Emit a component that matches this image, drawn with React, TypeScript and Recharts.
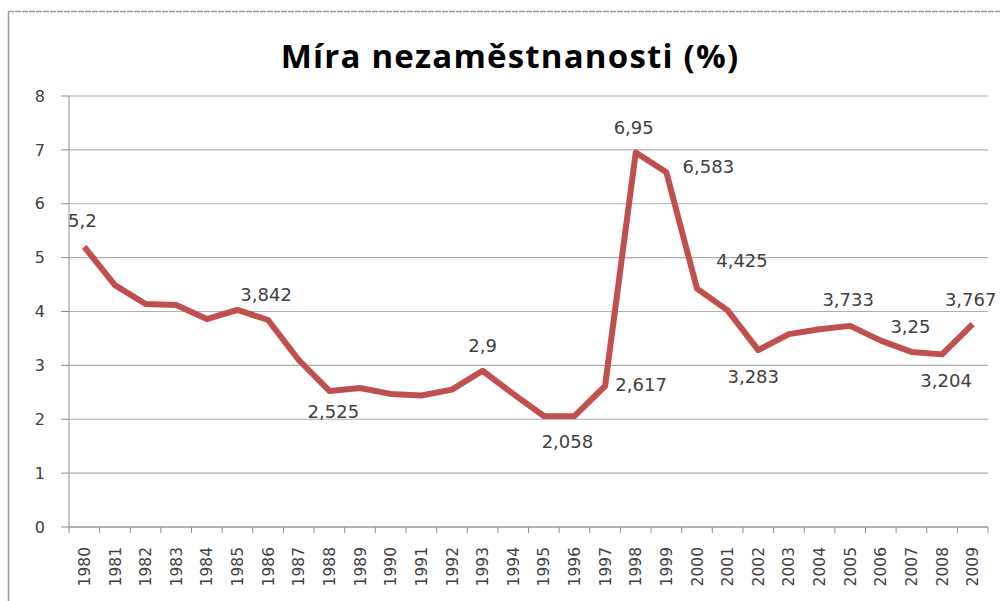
import { LineChart, Line, XAxis, YAxis, CartesianGrid } from "recharts";

const years = [
  "1980", "1981", "1982", "1983", "1984", "1985", "1986", "1987", "1988", "1989",
  "1990", "1991", "1992", "1993", "1994", "1995", "1996", "1997", "1998", "1999",
  "2000", "2001", "2002", "2003", "2004", "2005", "2006", "2007", "2008", "2009",
];

const rates = [
  5.2, 4.49, 4.14, 4.12, 3.86, 4.03, 3.842, 3.1, 2.525, 2.58,
  2.47, 2.44, 2.55, 2.9, 2.47, 2.06, 2.058, 2.617, 6.95, 6.583,
  4.425, 4.02, 3.283, 3.58, 3.67, 3.733, 3.46, 3.25, 3.204, 3.767,
];

const yTicks = [0, 1, 2, 3, 4, 5, 6, 7, 8];

const title = "Míra nezaměstnanosti (%)";

// where Excel put each data label, relative to its point
const labelPlacement: Record<string, { dx: number; dy: number }> = {
  "1980": { dx: -2, dy: -26 },
  "1986": { dx: -2, dy: -25 },
  "1988": { dx: 4, dy: 21 },
  "1993": { dx: 0, dy: -25 },
  "1996": { dx: -7, dy: 25 },
  "1997": { dx: 36, dy: -1 },
  "1998": { dx: -2, dy: -25 },
  "1999": { dx: 42, dy: -6 },
  "2000": { dx: 45, dy: -28 },
  "2002": { dx: -5, dy: 26 },
  "2005": { dx: -2, dy: -26 },
  "2007": { dx: -1, dy: -25 },
  "2008": { dx: 4, dy: 26 },
  "2009": { dx: -2, dy: -25 },
};

const data = years.map((year, i) => ({ year, rate: rates[i] }));

const textColor = "#404040";
const axisGray = "#8C8C8C";
const gridGray = "#ADADAD";
const halfBand = 15.3;

function YearTick(props: any) {
  const { x, y, payload, index, visibleTicksCount } = props;
  const last = index === visibleTicksCount - 1;
  return (
    <g>
      <line x1={x - halfBand} y1={y} x2={x - halfBand} y2={y + 6} stroke={axisGray} />
      {last && <line x1={x + halfBand} y1={y} x2={x + halfBand} y2={y + 6} stroke={axisGray} />}
      <text
        transform={`translate(${x}, ${y + 20}) rotate(-90)`}
        textAnchor="end"
        dy="0.36em"
        fontSize={15.5}
        fontFamily="DejaVu Sans"
        fill={textColor}
      >
        {payload.value}
      </text>
    </g>
  );
}

function PointLabel(props: any) {
  const { x, y, value, index } = props;
  const place = labelPlacement[years[index]];
  if (!place) return null;
  return (
    <text
      x={x + place.dx}
      y={y + place.dy}
      dy="0.36em"
      textAnchor="middle"
      fontSize={18}
      fontFamily="DejaVu Sans"
      fill={textColor}
    >
      {String(value).replace(".", ",")}
    </text>
  );
}

export default function App() {
  return (
    <div style={{ position: "absolute", left: 0, top: 0, width: 1000, height: 601, background: "#fff" }}>
      <svg width={1000} height={601} style={{ position: "absolute", left: 0, top: 0 }}>
        <line x1={8.5} y1={12} x2={8.5} y2={601} stroke="#9A9A9A" strokeWidth={1.5} />
        <line x1={8} y1={11.5} x2={1000} y2={11.5} stroke="#9A9A9A" strokeWidth={1.5} strokeDasharray="6 1" />
        <text
          x={510}
          y={56}
          dy="0.35em"
          textAnchor="middle"
          fontSize={33}
          fontWeight="bold"
          letterSpacing={1.2}
          fontFamily="Open Sans"
          fill="#000"
        >
          {title}
        </text>
      </svg>
      <div style={{ position: "absolute", left: 0, top: 0 }}>
        <LineChart width={1000} height={601} data={data} margin={{ top: 96, right: 12, left: 0, bottom: 0 }}>
          <CartesianGrid vertical={false} stroke={gridGray} strokeWidth={1.2} />
          <XAxis
            dataKey="year"
            interval={0}
            height={74}
            padding={{ left: halfBand, right: halfBand }}
            tickLine={false}
            tickSize={0}
            tickMargin={0}
            axisLine={{ stroke: axisGray }}
            tick={<YearTick />}
          />
          <YAxis
            domain={[0, 8]}
            ticks={yTicks}
            width={69}
            tickSize={8}
            tickMargin={16}
            axisLine={{ stroke: axisGray }}
            tickLine={{ stroke: axisGray }}
            tick={{ fill: textColor, fontSize: 16, fontFamily: "DejaVu Sans" }}
          />
          <Line
            type="linear"
            dataKey="rate"
            stroke="#C0504D"
            strokeWidth={6}
            strokeLinejoin="round"
            dot={false}
            activeDot={false}
            isAnimationActive={false}
            label={<PointLabel />}
          />
        </LineChart>
      </div>
    </div>
  );
}
